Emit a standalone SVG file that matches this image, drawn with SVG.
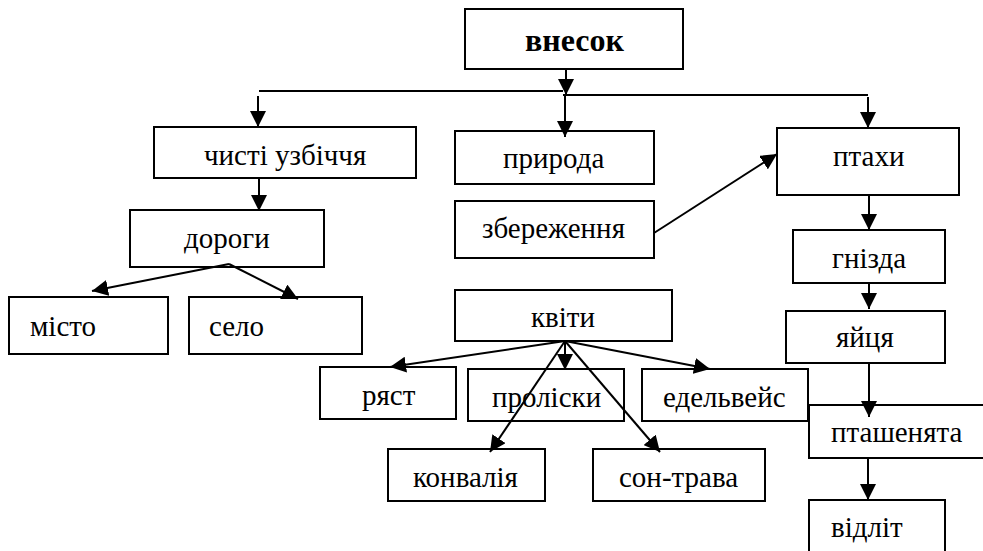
<svg xmlns="http://www.w3.org/2000/svg" width="983" height="551" viewBox="0 0 983 551">
<style>
.box{fill:#fff;stroke:#000;stroke-width:2}
.t{font-family:"Liberation Serif","Times New Roman",serif;font-size:29px;fill:#000}
.b{font-weight:bold;font-size:32px}
.c{stroke:#000;stroke-width:2;fill:none}
.a{marker-end:url(#ah)}
</style>
<defs>
<marker id="ah" markerUnits="userSpaceOnUse" markerWidth="17" markerHeight="16" refX="16" refY="8" orient="auto">
<path d="M0,0 L16,8 L0,16 z" fill="#000"/>
</marker>
</defs>
<rect width="983" height="551" fill="#fff"/>
<g id="nodes">
<g id="vnesok"><rect class="box" x="465" y="9" width="218" height="60"/><text class="t b" x="525" y="51">внесок</text></g>
<g id="chysti"><rect class="box" x="154" y="127" width="262" height="51"/><text class="t" x="204" y="165">чисті узбіччя</text></g>
<g id="dorohy"><rect class="box" x="130" y="210" width="194" height="57"/><text class="t" x="184" y="248">дороги</text></g>
<g id="misto"><rect class="box" x="9" y="297" width="159" height="57"/><text class="t" x="30" y="336">місто</text></g>
<g id="selo"><rect class="box" x="189" y="297" width="173" height="57"/><text class="t" x="209" y="336">село</text></g>
<g id="pryroda"><rect class="box" x="455" y="131" width="199" height="53"/><text class="t" x="503" y="168">природа</text></g>
<g id="zberezhennia"><rect class="box" x="455" y="201" width="199" height="57"/><text class="t" x="482" y="238">збереження</text></g>
<g id="ptakhy"><rect class="box" x="777" y="128" width="182" height="67"/><text class="t" x="833" y="166">птахи</text></g>
<g id="hnizda"><rect class="box" x="793" y="230" width="152" height="53"/><text class="t" x="832" y="268">гнізда</text></g>
<g id="yaitsia"><rect class="box" x="786" y="311" width="159" height="52"/><text class="t" x="836" y="347">яйця</text></g>
<g id="ptashenyata"><rect class="box" x="809" y="405" width="200" height="53"/><text class="t" x="831" y="442">пташенята</text></g>
<g id="vidlit"><rect class="box" x="809" y="500" width="136" height="60"/><text class="t" x="831" y="537">відліт</text></g>
<g id="kvity"><rect class="box" x="455" y="290" width="217" height="51"/><text class="t" x="531" y="327">квіти</text></g>
<g id="ryast"><rect class="box" x="320" y="367" width="136" height="52"/><text class="t" x="362" y="405">ряст</text></g>
<g id="proliski"><rect class="box" x="468" y="369" width="156" height="52"/><text class="t" x="492" y="407">проліски</text></g>
<g id="edelveis"><rect class="box" x="642" y="369" width="166" height="52"/><text class="t" x="663" y="407">едельвейс</text></g>
<g id="konvaliia"><rect class="box" x="388" y="449" width="157" height="52"/><text class="t" x="413" y="487">конвалія</text></g>
<g id="son-trava"><rect class="box" x="593" y="449" width="172" height="52"/><text class="t" x="619" y="487">сон-трава</text></g>
</g>
<g id="connectors">
<line class="c a" x1="566" y1="69" x2="566" y2="95"/>
<line class="c" x1="259" y1="91" x2="563" y2="91"/>
<line class="c" x1="563" y1="95" x2="868" y2="95"/>
<line class="c a" x1="565" y1="95" x2="565" y2="137"/>
<line class="c a" x1="258" y1="96" x2="258" y2="127"/>
<line class="c a" x1="868" y1="97" x2="868" y2="128"/>
<line class="c a" x1="259" y1="178" x2="259" y2="211"/>
<line class="c a" x1="229" y1="264" x2="92" y2="291"/>
<line class="c a" x1="229" y1="264" x2="298" y2="299"/>
<line class="c a" x1="654" y1="233" x2="777" y2="154"/>
<line class="c a" x1="869" y1="195" x2="869" y2="230"/>
<line class="c a" x1="869" y1="283" x2="869" y2="309"/>
<line class="c a" x1="869" y1="363" x2="869" y2="417"/>
<line class="c a" x1="868" y1="458" x2="868" y2="500"/>
<line class="c a" x1="565" y1="341" x2="390" y2="367"/>
<line class="c a" x1="565" y1="341" x2="565" y2="370"/>
<line class="c a" x1="565" y1="341" x2="710" y2="369"/>
<line class="c a" x1="565" y1="341" x2="490" y2="452"/>
<line class="c a" x1="565" y1="341" x2="660" y2="452"/>
</g>
</svg>
